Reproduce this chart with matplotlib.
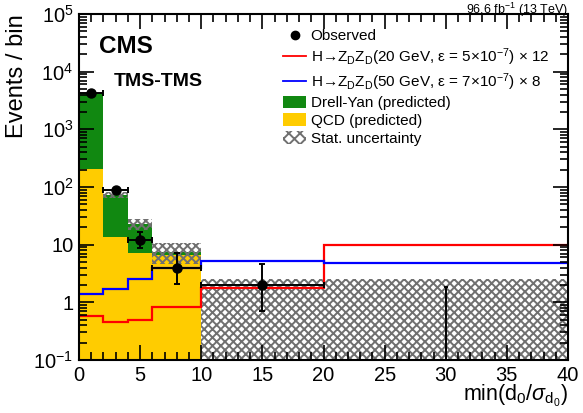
import matplotlib
matplotlib.use("Agg")
import matplotlib.pyplot as plt
import numpy as np
from matplotlib.lines import Line2D
from matplotlib.patches import Patch
from matplotlib.ticker import FixedLocator, LogLocator, NullFormatter, MultipleLocator

plt.rcParams['font.family'] = ['Liberation Sans', 'DejaVu Sans']
plt.rcParams['mathtext.fontset'] = 'custom'
plt.rcParams['mathtext.rm'] = 'Liberation Sans'
plt.rcParams['mathtext.it'] = 'Liberation Sans:italic'
plt.rcParams['mathtext.bf'] = 'Liberation Sans:bold'
plt.rcParams['hatch.linewidth'] = 1.4

# ---- data ----
bin_edges = [0, 2, 4, 6, 10, 20, 40]
qcd = [205, 13.8, 7.2, 6.6, 0.0, 0.0]
dy = [4050, 59, 15.5, 1.0, 0.0, 0.0]
stat_unc = [60, 8, 5, 3, 2.5, 2.5]
obs = [4200, 88, 12, 4, 2, 0]
obs_err_lo = [65, 9.4, 3.4, 1.9, 1.3, 0]
obs_err_hi = [65, 9.4, 4.6, 3.2, 2.6, 1.84]
sig20 = [0.59, 0.45, 0.50, 0.845, 1.8, 10.0]
sig50 = [1.39, 1.71, 2.55, 4.0, 5.24, 4.84]

edges = np.array(bin_edges, dtype=float)
left = edges[:-1]
width = np.diff(edges)
centers = left + width / 2
qcd = np.array(qcd)
dy = np.array(dy)
total = qcd + dy
stat = np.array(stat_unc)

HATCH_COL = '#707070'
HATCH = 'xxxx'

fig = plt.figure(figsize=(5.83, 4.13), dpi=100)
ax = fig.add_axes([79/583, 1 - 360/413, 489/583, 346/413])

floor = 1e-3
ax.bar(left, qcd, width=width, bottom=floor, align='edge',
       color='#ffcc00', linewidth=0)
ax.bar(left, dy, width=width, bottom=qcd + floor, align='edge', color='#118811', linewidth=0)

# stat uncertainty band
lo = np.maximum(total - stat, floor)
hi = total + stat
ax.bar(left, hi - lo, width=width, bottom=lo, align='edge', facecolor='none',
       edgecolor=HATCH_COL, hatch=HATCH, linewidth=0)

# signals
ax.stairs(sig20, edges, color='#ff0000', linewidth=1.6, baseline=None)
ax.stairs(sig50, edges, color='#0000ff', linewidth=1.6, baseline=None)

# observed
obs = np.array(obs, dtype=float)
m = obs > 0
ax.errorbar(centers[m], obs[m], xerr=width[m] / 2,
            yerr=[np.array(obs_err_lo)[m], np.array(obs_err_hi)[m]],
            fmt='o', color='black', markersize=6.5, elinewidth=1.4, capsize=2, capthick=1.4)
for c, v, eh in zip(centers[~m], obs[~m], np.array(obs_err_hi)[~m]):
    ax.vlines(c, floor, v + eh, color='black', linewidth=1.4)
    ax.hlines(v + eh, c - 0.15, c + 0.15, color='black', linewidth=1.4)

ax.set_yscale('log')
ax.set_ylim(0.1, 1e5)
ax.set_xlim(0, 40)

ax.xaxis.set_major_locator(MultipleLocator(5))
ax.xaxis.set_minor_locator(MultipleLocator(1))
ax.yaxis.set_major_locator(FixedLocator([0.1, 1, 10, 100, 1e3, 1e4, 1e5]))
ax.set_yticklabels([r'10$^{-1}$', '1', '10', r'10$^{2}$', r'10$^{3}$', r'10$^{4}$', r'10$^{5}$'])
ax.yaxis.set_minor_locator(LogLocator(base=10, subs=np.arange(2, 10)))
ax.yaxis.set_minor_formatter(NullFormatter())

ax.tick_params(which='both', direction='in', top=True, right=True, labelsize=14.5, width=1.2)
ax.tick_params(which='major', length=11)
ax.tick_params(which='minor', length=5.5)
ax.tick_params(axis='x', pad=4)
ax.tick_params(axis='y', pad=4)
for s in ax.spines.values():
    s.set_linewidth(1.5)

ax.set_ylabel('Events / bin', fontsize=17, loc='top', labelpad=4)
ax.set_xlabel(r'min(d$_{0}$/$\sigma_{\rm d_{0}}$)', fontsize=15.5, loc='right', labelpad=-1)

ax.text(0.04, 0.905, 'CMS', transform=ax.transAxes, fontsize=17.5, fontweight='bold',
        va='center', ha='left')
ax.text(0.072, 0.805, 'TMS-TMS', transform=ax.transAxes, fontsize=14, fontweight='bold',
        va='center', ha='left')
fig.text(568/583, 1 - 0.5/413, r'96.6 fb$^{-1}$ (13 TeV)', fontsize=9, ha='right', va='top')

handles = [
    Line2D([], [], marker='o', color='black', linestyle='none', markersize=6),
    Line2D([], [], color='#ff0000', linewidth=1.3),
    Line2D([], [], color='#0000ff', linewidth=1.3),
    Patch(facecolor='#118811', edgecolor='none'),
    Patch(facecolor='#ffcc00', edgecolor='none'),
    Patch(facecolor='none', edgecolor=HATCH_COL, hatch='xxx', linewidth=0),
]
labels = [
    'Observed',
    r'H→Z$_{\rm D}$Z$_{\rm D}$(20 GeV, ε = 5×10$^{-7}$) × 12',
    r'H→Z$_{\rm D}$Z$_{\rm D}$(50 GeV, ε = 7×10$^{-7}$) × 8',
    'Drell-Yan (predicted)',
    'QCD (predicted)',
    'Stat. uncertainty',
]
leg = ax.legend(handles, labels, loc='upper left', bbox_to_anchor=(0.405, 0.975),
                frameon=False, fontsize=11, handlelength=1.5, handleheight=0.9,
                handletextpad=0.3, labelspacing=0.2, borderaxespad=0)

fig.savefig('out.png', dpi=100)
